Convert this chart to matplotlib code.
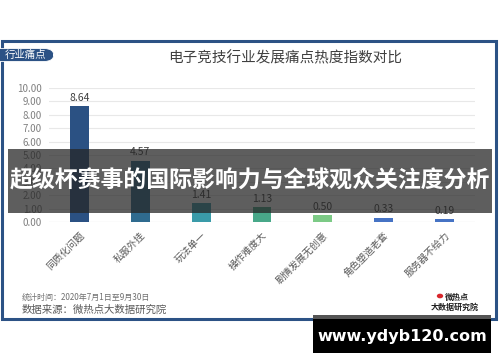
import matplotlib.pyplot as plt
from matplotlib.patches import Rectangle, FancyBboxPatch, Circle

plt.rcParams['font.family'] = ['Noto Sans CJK SC', 'DejaVu Sans']

categories = ['同质化问题', '私服外挂', '玩法单一', '操作难度大', '剧情发展无创意', '角色塑造老套', '服务器不给力']
values = [8.64, 4.57, 1.41, 1.13, 0.50, 0.33, 0.19]
bar_colors = ['#2b5183', '#2f6b8f', '#3a9ba9', '#48a889', '#7cca86', '#4673c4', '#4673c4']
yticks = [0, 1, 2, 3, 4, 5, 6, 7, 8, 9, 10]

W, H = 500, 362


def fx(x):
    return x / W


def fy(y):
    return 1 - y / H


fig = plt.figure(figsize=(5, 3.62), dpi=100)
fig.patch.set_facecolor('white')

# outer blue frame
fig.patches.append(Rectangle((fx(1.5), fy(318.5)), fx(494.5), (318.5 - 41) / H,
                             transform=fig.transFigure, fill=False,
                             edgecolor='#2c5285', linewidth=2.2))

# tab top-left
fig.patches.append(FancyBboxPatch((fx(-10), fy(61.5)), fx(64), 13 / H,
                                  boxstyle='round,pad=0,rounding_size=0.02',
                                  transform=fig.transFigure, facecolor='#2c5285',
                                  edgecolor='white', linewidth=0.6))
fig.text(fx(25), fy(55), '行业痛点', color='white', fontsize=7.5, ha='center', va='center')

fig.text(fx(285), fy(58), '电子竞技行业发展痛点热度指数对比', color='#404040',
         fontsize=10.5, ha='center', va='center')

ax = fig.add_axes([fx(49), fy(222), 426 / W, 134 / H])
x = list(range(len(categories)))
ax.bar(x, values, width=0.31, color=bar_colors, zorder=3)
for xi, v in zip(x, values):
    ax.text(xi, v + 0.25, f'{v:.2f}', ha='center', va='bottom', fontsize=7.5, color='#404040')
ax.set_xlim(-0.5, 6.5)
ax.set_ylim(0, 10)
ax.set_yticks(yticks)
ax.set_yticklabels([f'{t:.2f}' for t in yticks], fontsize=7, color='#808080')
ax.set_xticks(x)
ax.set_xticklabels(categories, rotation=45, ha='right', rotation_mode='anchor',
                   fontsize=7, color='#595959')
ax.tick_params(length=0, pad=5)
ax.tick_params(axis='x', pad=6)
ax.grid(axis='y', color='#e8e8e8', linewidth=0.8, zorder=0)
for s in ax.spines.values():
    s.set_visible(False)
ax.axhline(0, color='#d9d9d9', linewidth=0.8, zorder=2)

# footer texts
fig.text(fx(22), fy(297), '统计时间：2020年7月1日至9月30日', color='#707070', fontsize=5.8,
         ha='left', va='center')
fig.text(fx(22), fy(310), '数据来源：微热点大数据研究院', color='#595959', fontsize=7.5,
         ha='left', va='center')

# logo
fig.patches.append(Circle((fx(440), fy(296)), 3.2 / W, transform=fig.transFigure,
                          facecolor='#d8262c', edgecolor='none'))
fig.text(fx(457), fy(297), '微热点', color='#222222', fontsize=5.8, fontweight='bold',
         ha='center', va='center')
fig.text(fx(455), fy(307), '大数据研究院', color='#222222', fontsize=5.8, fontweight='bold',
         ha='center', va='center')

# dark overlay band with headline
fig.patches.append(Rectangle((fx(8), fy(213)), 484 / W, 64 / H, transform=fig.transFigure,
                             facecolor='#262626', alpha=0.74, edgecolor='none', zorder=10))
fig.text(fx(250), fy(181), '超级杯赛事的国际影响力与全球观众关注度分析', color='white',
         fontsize=16.5, fontweight='bold', ha='center', va='center', zorder=11)

# watermark box
fig.patches.append(Rectangle((fx(313), fy(353)), 178 / W, 38 / H, transform=fig.transFigure,
                             facecolor='black', edgecolor='none', zorder=10))
fig.patches.append(Rectangle((fx(313), fy(319)), 178 / W, 4 / H, transform=fig.transFigure,
                             facecolor='#555555', edgecolor='none', zorder=11))
fig.text(fx(402), fy(336), 'www.ydyb120.com', color='white', fontsize=11.5,
         fontweight='bold', family='DejaVu Sans', ha='center', va='center', zorder=12)

fig.savefig('out.png', dpi=100)
